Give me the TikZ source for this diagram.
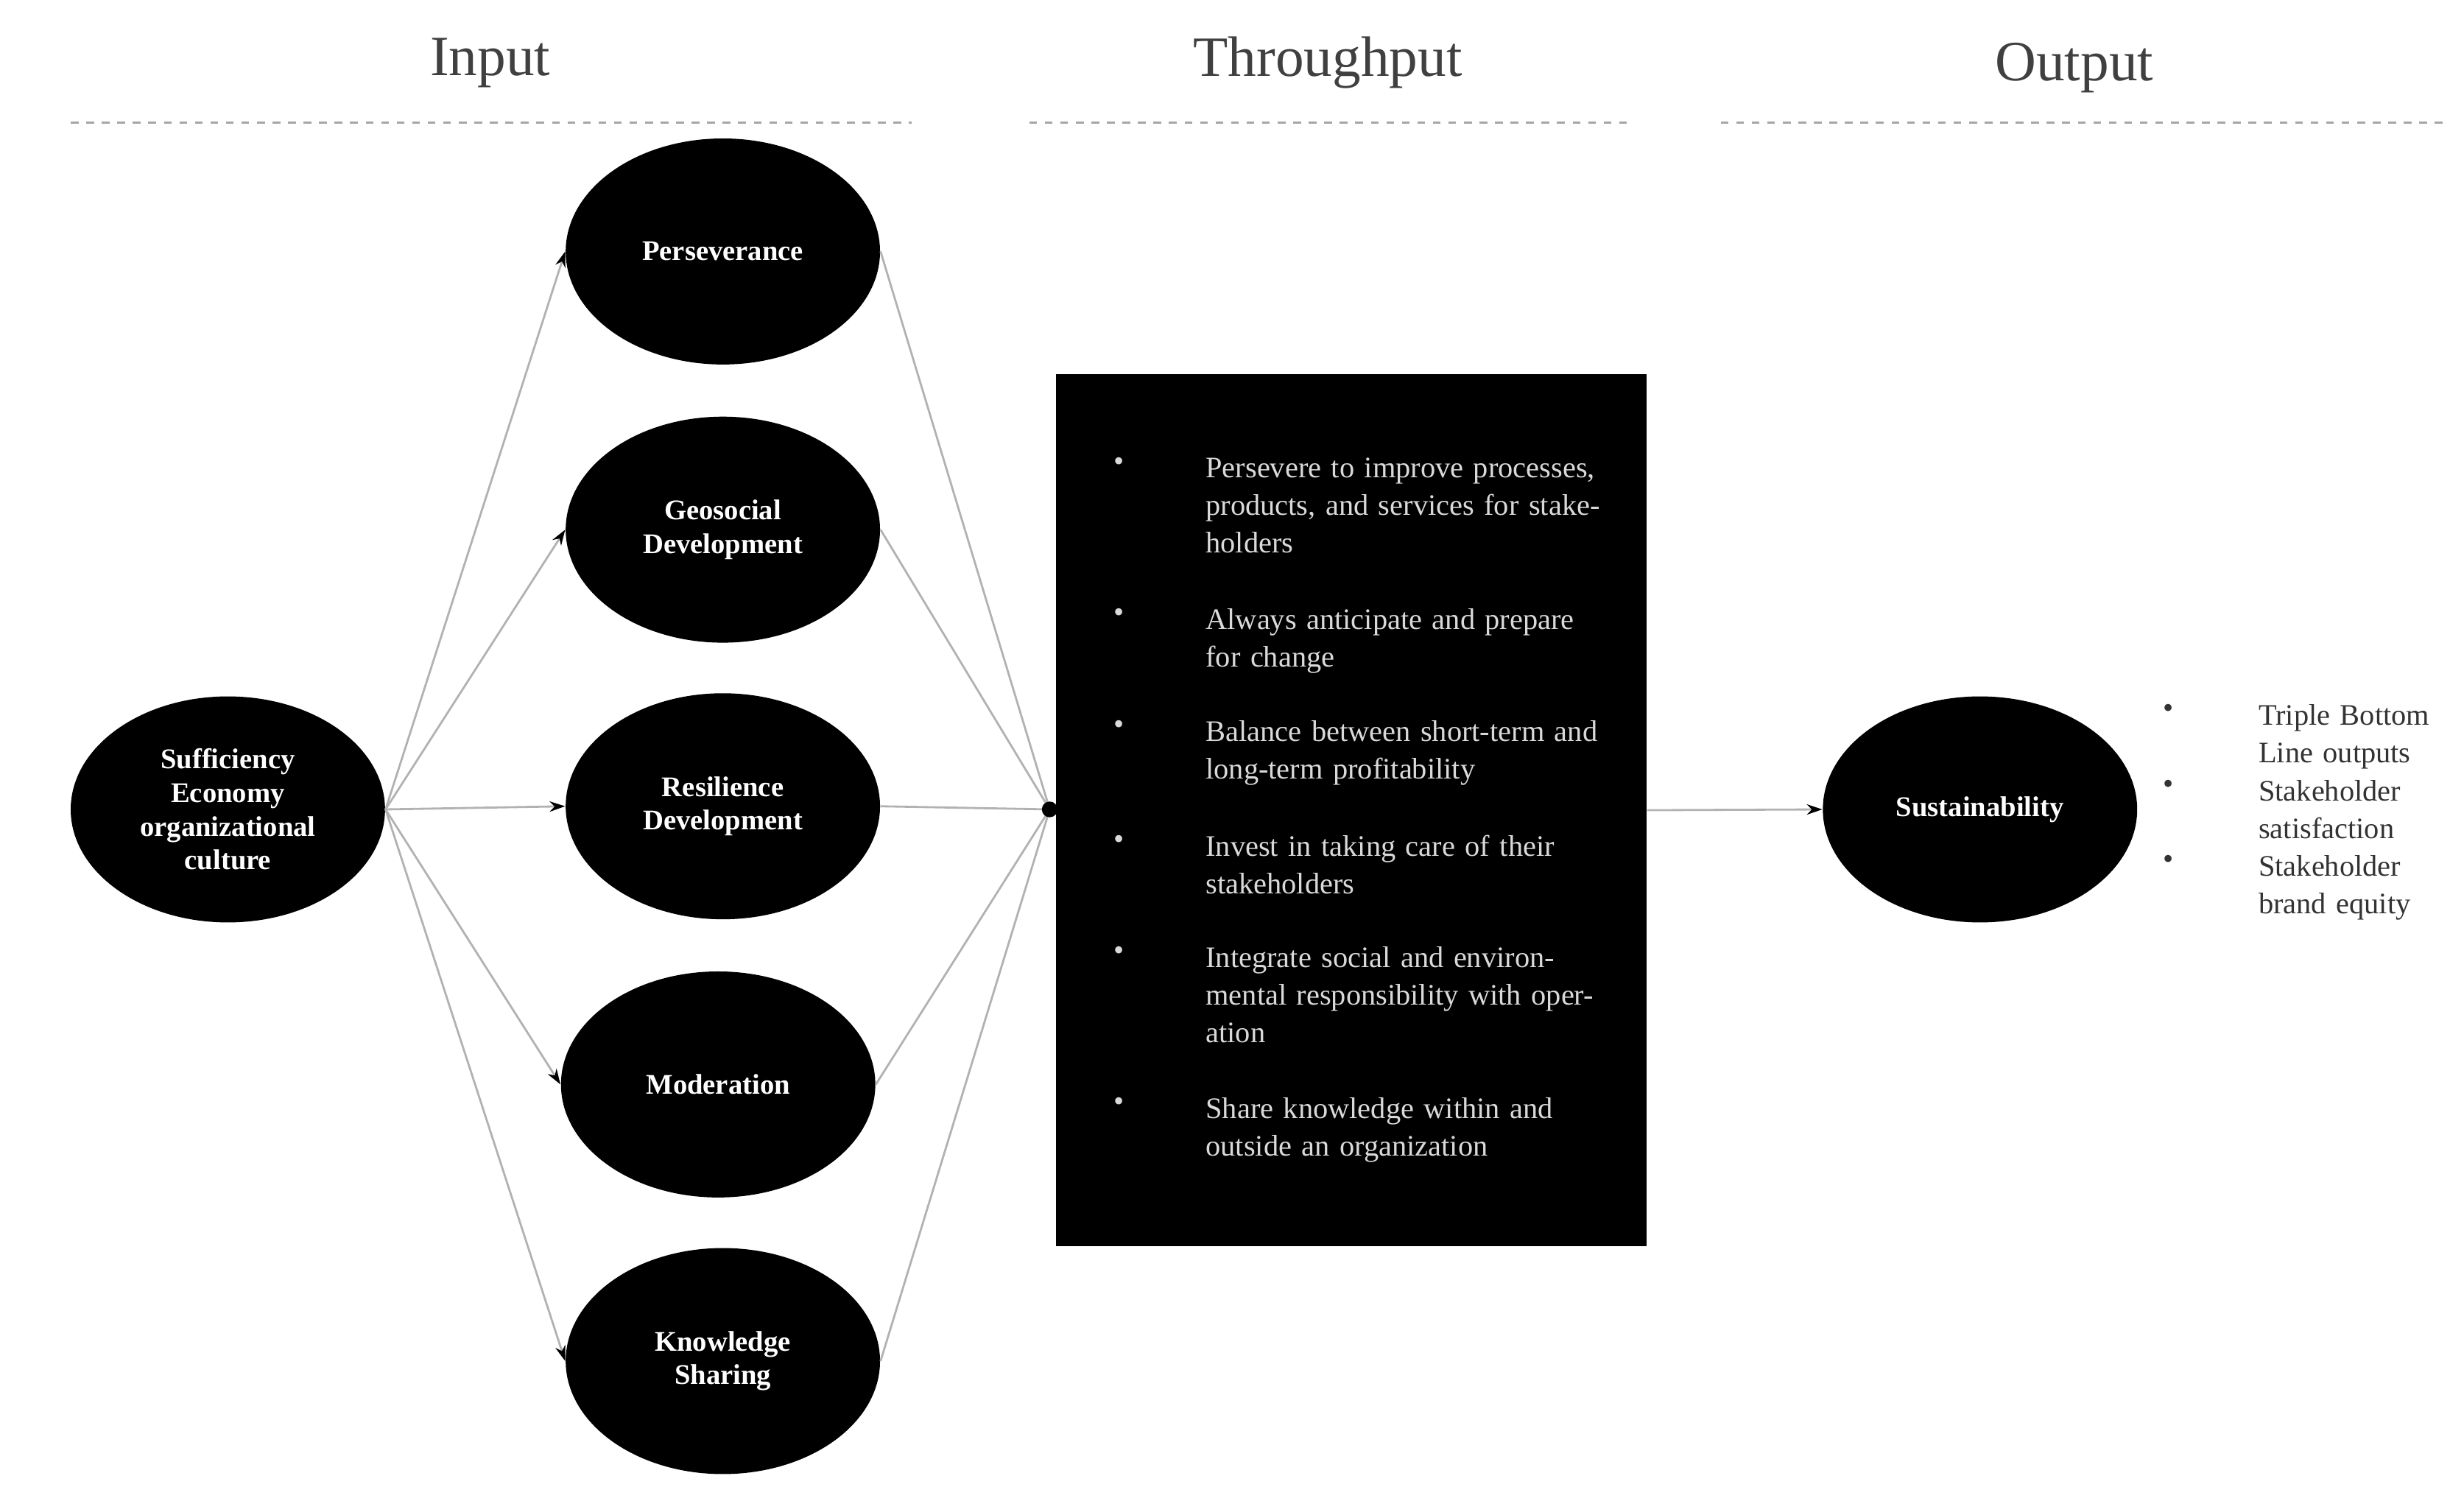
\documentclass[tikz,border=0pt]{standalone}
\usepackage{fontspec}
\setmainfont{Liberation Serif}
\usetikzlibrary{shapes.geometric,arrows.meta}
\begin{document}
\begin{tikzpicture}[x=0.02134cm,y=-0.02134cm,
  head/.style={font=\fontsize{22}{26}\selectfont, text=black!75},
  hrule/.style={gray!70, dashed, line width=0.6pt},
  ell/.style={ellipse, fill=black, minimum width=4.27cm, minimum height=3.07cm, inner sep=0pt, text=white, font=\bfseries\fontsize{11}{13}\selectfont, align=center},
  con/.style={gray!60, line width=0.8pt},
  arr/.style={con, -{Stealth[length=6pt,width=4pt,black]}},
  btxt/.style={anchor=north west, text=white!85!black, text width=5.4cm, align=left, font=\fontsize{11.5}{14.5}\selectfont, inner sep=0pt},
  bul/.style={anchor=north, text=white!85!black, font=\fontsize{11.5}{14.5}\selectfont, inner sep=0pt},
  otxt/.style={anchor=north west, text=black!80, text width=2.7cm, align=left, font=\fontsize{11.5}{14.5}\selectfont, inner sep=0pt}
]
\useasboundingbox (0,0) rectangle (1568,955);
\node[head] (hin) at (312,40) {Input};
\node[head] (hth) at (845,40) {Throughput};
\node[head] (hout) at (1320,43) {Output};
\draw[hrule] (45,78) -- (580,78);
\draw[hrule] (655,78) -- (1035,78);
\draw[hrule] (1095,78) -- (1555,78);

\node[ell] (sec) at (145,515) {Sufficiency\\Economy\\organizational\\culture};
\node[ell] (per) at (460,160) {Perseverance};
\node[ell] (geo) at (460,337) {Geosocial\\Development};
\node[ell] (res) at (460,513) {Resilience\\Development};
\node[ell] (mod) at (457,690) {Moderation};
\node[ell] (kno) at (460,866) {Knowledge\\Sharing};
\node[ell] (sus) at (1260,515) {Sustainability};

\node[fill=black, minimum width=8.02cm, minimum height=11.84cm, inner sep=0pt] (box) at (860,515.5) {};
\coordinate (j) at (668,515);

\foreach \t in {per,geo,res,mod,kno} {
  \draw[arr] (sec.east) -- (\t.west);
  \draw[con] (\t.east) -- (j);
}
\fill[black] (j) circle (5);
\draw[arr] (box.east) -- (sus.west);

\node[bul] (b1) at (712,291) {•};
\node[btxt] (t1) at (767,291) {Persevere to improve processes, products, and services for stakeholders};
\node[bul] (b2) at (712,387) {•};
\node[btxt] (t2) at (767,387) {Always anticipate and prepare for change};
\node[bul] (b3) at (712,458) {•};
\node[btxt] (t3) at (767,458) {Balance between short-term and long-term profitability};
\node[bul] (b4) at (712,531) {•};
\node[btxt] (t4) at (767,531) {Invest in taking care of their stakeholders};
\node[bul] (b5) at (712,602) {•};
\node[btxt] (t5) at (767,602) {Integrate social and environmental responsibility with operation};
\node[bul] (b6) at (712,698) {•};
\node[btxt] (t6) at (767,698) {Share knowledge within and outside an organization};

\node[bul, text=black!80] (o1) at (1380,448) {•};
\node[otxt] (ot1) at (1437,448) {Triple Bottom Line outputs};
\node[bul, text=black!80] (o2) at (1380,496) {•};
\node[otxt] (ot2) at (1437,496) {Stakeholder satisfaction};
\node[bul, text=black!80] (o3) at (1380,544) {•};
\node[otxt] (ot3) at (1437,544) {Stakeholder brand equity};
\end{tikzpicture}
\end{document}
